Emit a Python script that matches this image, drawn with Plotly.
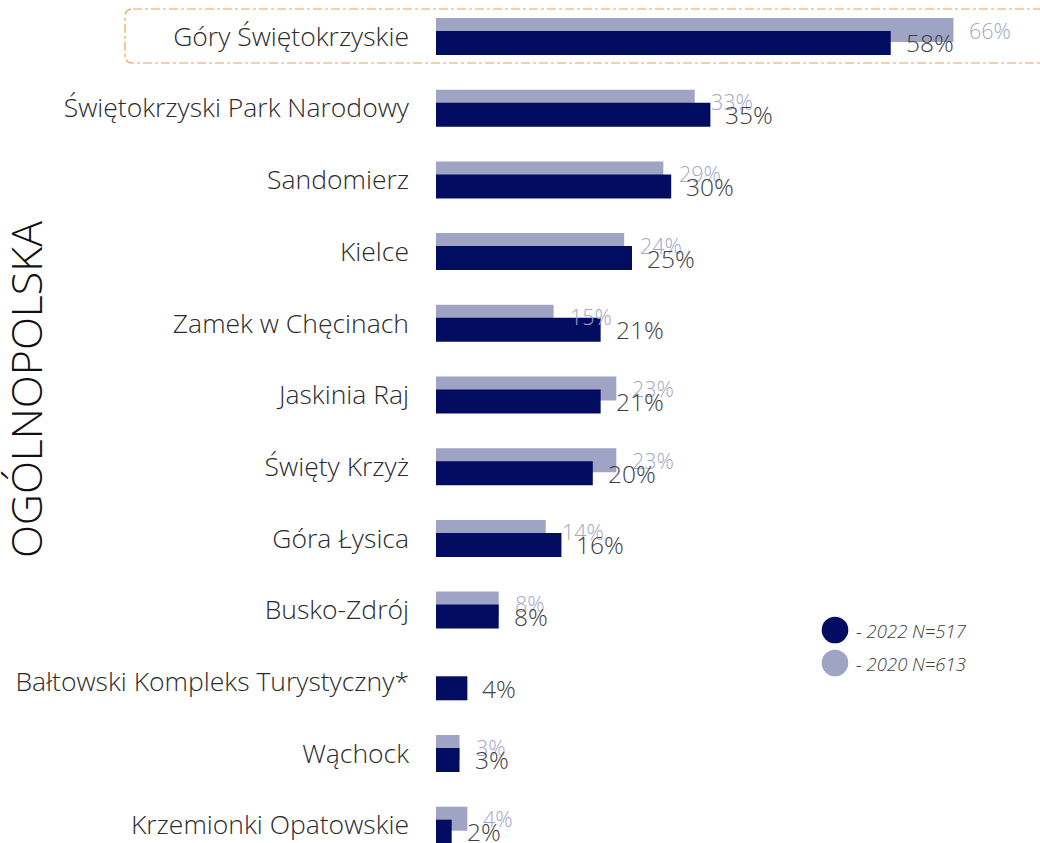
import plotly.graph_objects as go

categories = [
    "Góry Świętokrzyskie",
    "Świętokrzyski Park Narodowy",
    "Sandomierz",
    "Kielce",
    "Zamek w Chęcinach",
    "Jaskinia Raj",
    "Święty Krzyż",
    "Góra Łysica",
    "Busko-Zdrój",
    "Bałtowski Kompleks Turystyczny*",
    "Wąchock",
    "Krzemionki Opatowskie",
]
values_2022 = [58, 35, 30, 25, 21, 21, 20, 16, 8, 4, 3, 2]
values_2020 = [66, 33, 29, 24, 15, 23, 23, 14, 8, None, 3, 4]
series_names = ["- 2022 N=517", "- 2020 N=613"]
title_text = "OGÓLNOPOLSKA"

NAVY = "#020c60"
GREY = "#9fa3c4"
FONT = "Open Sans"

W, H = 1040, 843
ML = 436
BAR_W = 0.335
OFF_2020 = -0.258
OFF_2022 = -0.077
px_per_unit = 71.7
px_per_pct = 7.84


def px_x(px):
    return (px - ML) / (W - ML)


def px_y(py):
    return 1 - py / H


idx = list(range(len(categories)))

fig = go.Figure()
fig.add_trace(go.Bar(
    y=idx, x=[v if v is not None else 0 for v in values_2020], orientation="h",
    width=BAR_W, offset=OFF_2020, marker=dict(color=GREY, line=dict(width=0)),
    name=series_names[1], showlegend=False, hoverinfo="skip",
))
fig.add_trace(go.Bar(
    y=idx, x=values_2022, orientation="h",
    width=BAR_W, offset=OFF_2022, marker=dict(color=NAVY, line=dict(width=0)),
    name=series_names[0], showlegend=False, hoverinfo="skip",
))

annotations = []
for i, v in enumerate(values_2020):
    if v is None:
        continue
    annotations.append(dict(
        x=v, y=i + OFF_2020 + BAR_W / 2, xref="x", yref="y", text=f"{v}%",
        showarrow=False, xanchor="left", yanchor="middle", xshift=14,
        font=dict(family=FONT, size=21.5, color="#a3a7c8", weight=300),
    ))
for i, v in enumerate(values_2022):
    annotations.append(dict(
        x=v, y=i + OFF_2022 + BAR_W / 2, xref="x", yref="y", text=f"{v}%",
        showarrow=False, xanchor="left", yanchor="middle", xshift=13,
        font=dict(family=FONT, size=24.5, color="#404040", weight=300),
    ))

# vertical title
annotations.append(dict(
    x=px_x(25), y=px_y(390), xref="paper", yref="paper",
    text=title_text, textangle=-90, showarrow=False,
    xanchor="center", yanchor="middle",
    font=dict(family=FONT, size=43, color="#111111", weight=300),
))

# legend (manual, large circles)
leg_x = px_x(835)
leg_ys = [px_y(630), px_y(663)]
shapes = []
for name, col, ly in zip(series_names, [NAVY, GREY], leg_ys):
    shapes.append(dict(
        type="circle", xref="paper", yref="paper", xsizemode="pixel", ysizemode="pixel",
        xanchor=leg_x, yanchor=ly, x0=-13.3, x1=13.3, y0=-13.3, y1=13.3,
        fillcolor=col, line=dict(width=0),
    ))
    annotations.append(dict(
        x=px_x(854), y=ly, xref="paper", yref="paper", text=f"<i>{name}</i>",
        showarrow=False, xanchor="left", yanchor="middle",
        font=dict(family=FONT, size=18.5, color="#404040", weight=300),
    ))

# highlight box around first row
y_top = 0 - 27.5 / px_per_unit
y_bot = 0 + 26.5 / px_per_unit
x_l = px_x(125)
x_r = 1.02
rx = 8 / (W - ML)
ry = 8 / px_per_unit
path = (
    f"M {x_l + rx},{y_top} L {x_r},{y_top} "
    f"M {x_r},{y_bot} L {x_l + rx},{y_bot} "
    f"Q {x_l},{y_bot} {x_l},{y_bot - ry} L {x_l},{y_top + ry} "
    f"Q {x_l},{y_top} {x_l + rx},{y_top}"
)
shapes.append(dict(
    type="path", xref="paper", yref="y", path=path,
    line=dict(color="#f0a24f", width=1.2, dash="dashdot"), layer="above",
))

y0 = -36.5 / px_per_unit
y1 = y0 + H / px_per_unit
x_max = (W - ML) / px_per_pct

fig.update_layout(
    width=W, height=H,
    margin=dict(l=ML, r=0, t=0, b=0),
    paper_bgcolor="white", plot_bgcolor="white",
    barmode="overlay",
    xaxis=dict(range=[0, x_max], visible=False, fixedrange=True),
    yaxis=dict(
        range=[y1, y0], tickmode="array", tickvals=idx, ticktext=categories,
        showgrid=False, zeroline=False, showline=False, ticks="",
        ticklabelstandoff=26,
        tickfont=dict(family=FONT, size=26.5, color="#2b2b2b", weight=300),
        fixedrange=True,
    ),
    annotations=annotations,
    shapes=shapes,
    showlegend=False,
)

fig.write_html(
    "out.html",
    config={"displayModeBar": False},
    post_script=(
        "document.body.style.margin='0';"
        "document.body.style.overflow='hidden';"
        "document.documentElement.style.overflow='hidden';"
    ),
)
